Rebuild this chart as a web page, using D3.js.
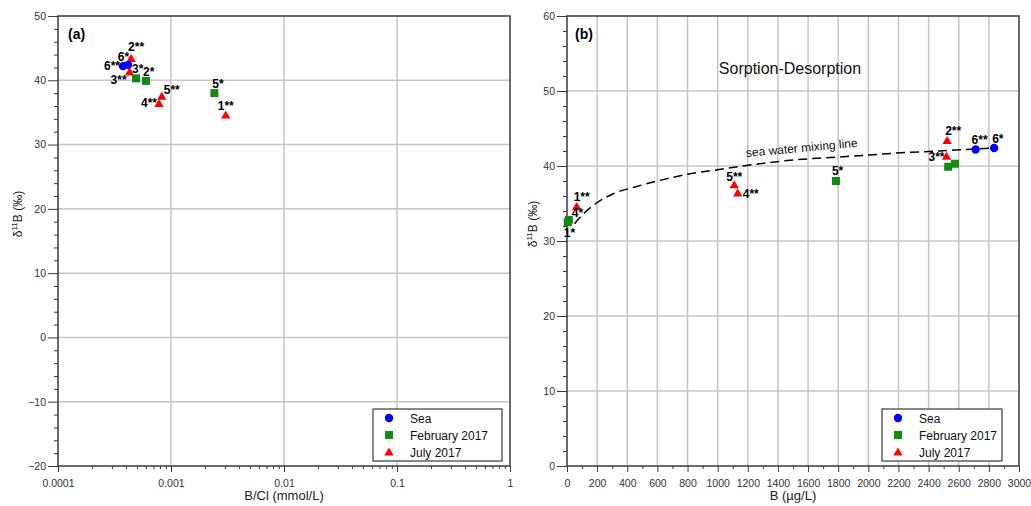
<!DOCTYPE html>
<html><head><meta charset="utf-8">
<script src="https://cdn.jsdelivr.net/npm/d3@7"></script>
<style>body{margin:0;background:#fff}svg{display:block;font-family:"Liberation Sans",Arial,sans-serif}</style>
</head><body><svg id="c" width="1031" height="506"></svg>
<script>
// ---------------- data ----------------
const seriesNames = ["Sea", "February 2017", "July 2017"];

const seaLabels = ["6**", "6*"];
const seaBCl    = [0.000376, 0.000417];
const seaB      = [2712, 2835];
const seaD11B   = [42.2, 42.4];

const febLabels = ["1*", "2*", "3*", "4*", "5*"];
const febBCl    = [null, 0.000601, 0.00049, null, 0.00242];
const febB      = [5, 2530, 2575, 12, 1785];
const febD11B   = [32.5, 39.9, 40.3, 32.8, 38.0];

const julLabels = ["1**", "2**", "3**", "4**", "5**"];
const julBCl    = [0.00305, 0.000443, 0.00043, 0.000783, 0.000828];
const julB      = [64, 2523, 2519, 1133, 1110];
const julD11B   = [34.6, 43.4, 41.3, 36.4, 37.5];

// sea water mixing line
const mixB    = [50, 113, 206, 307, 451, 600, 800, 1000, 1280, 1500, 1810, 2030, 2250, 2475, 2650, 2835];
const mixD11B = [32.3, 33.7, 35.2, 36.3, 37.2, 38.0, 38.9, 39.5, 40.3, 40.8, 41.2, 41.5, 41.8, 42.0, 42.2, 42.4];

const yTicksA = [-20, -10, 0, 10, 20, 30, 40, 50];
const xTicksA = [0.0001, 0.001, 0.01, 0.1, 1];
const xTickLabelsA = ["0.0001", "0.001", "0.01", "0.1", "1"];
const yTicksB = [0, 10, 20, 30, 40, 50, 60];
const xTicksB = [0, 200, 400, 600, 800, 1000, 1200, 1400, 1600, 1800, 2000, 2200, 2400, 2600, 2800, 3000];

// ---------------- layout (label offsets in px) ----------------
const labelPosA = {
  "2**": [-3, -7, "start"], "6*": [1, -4, "end"], "6**": [-3, 4, "end"], "3**": [-3, 12, "end"],
  "3*": [-4, -5, "start"], "2*": [-3, -5, "start"], "5**": [2, -2, "start"], "4**": [-2, 4, "end"],
  "5*": [-2, -5, "start"], "1**": [-8, -5, "start"]
};
const labelPosB = {
  "1**": [-3, -6, "start"], "4*": [3, -3, "start"], "1*": [-4, 15, "start"], "5**": [-8, -4, "start"],
  "4**": [5, 5, "start"], "5*": [-4, -6, "start"], "2**": [-2, -6, "start"], "3**": [-2, 5, "end"],
  "6**": [-4, -6, "start"], "6*": [-2, -5, "start"]
};

const svg = d3.select("#c");
const colors = {sea: "#0000ff", feb: "#138a13", jul: "#ff0000"};
const gridColor = "#c6c6c6", frameColor = "#3a3a3a", tickTextColor = "#333";

function marker(g, kind, x, y) {
  if (kind === "sea") g.append("circle").attr("cx", x).attr("cy", y).attr("r", 4.2).attr("fill", colors.sea);
  else if (kind === "feb") g.append("rect").attr("x", x - 4).attr("y", y - 4).attr("width", 8).attr("height", 8).attr("fill", colors.feb);
  else g.append("path").attr("d", d3.symbol(d3.symbolTriangle, 38)()).attr("transform", `translate(${x},${y + 0.8})`).attr("fill", colors.jul);
}

function panel(o) {
  const g = svg.append("g");
  const x = o.x, y = o.y;
  const [x0, x1] = x.range(), [y1, y0] = y.range();
  g.selectAll(".gx").data(o.gridX).join("line")
    .attr("x1", d => x(d)).attr("x2", d => x(d)).attr("y1", y0).attr("y2", y1)
    .attr("stroke", gridColor).attr("stroke-width", 1.5);
  g.selectAll(".gy").data(o.gridY).join("line")
    .attr("x1", x0).attr("x2", x1).attr("y1", d => y(d)).attr("y2", d => y(d))
    .attr("stroke", gridColor).attr("stroke-width", 1.5);
  g.append("g").attr("transform", `translate(${x0},0)`)
    .call(d3.axisLeft(y).tickValues(o.yMinor).tickSize(4).tickFormat(""))
    .call(a => a.select(".domain").remove())
    .selectAll("line").attr("stroke", frameColor);
  g.append("g").attr("transform", `translate(0,${y1})`)
    .call(d3.axisBottom(x).tickValues(o.xMinor).tickSize(3).tickFormat(""))
    .call(a => a.select(".domain").remove())
    .selectAll("line").attr("stroke", frameColor);
  const ay = g.append("g").attr("transform", `translate(${x0},0)`)
    .call(d3.axisLeft(y).tickValues(o.yTicks).tickSize(10).tickPadding(2).tickFormat(d3.format("d")));
  const ax = g.append("g").attr("transform", `translate(0,${y1})`)
    .call(d3.axisBottom(x).tickValues(o.xTicks).tickSize(6).tickPadding(8).tickFormat((d, i) => o.xTickLabels[i]));
  [ay, ax].forEach(a => {
    a.select(".domain").remove();
    a.selectAll("line").attr("stroke", frameColor);
    a.selectAll("text").attr("font-size", 10.5).attr("fill", tickTextColor).attr("font-family", "Liberation Sans, Arial, sans-serif");
  });
  g.append("rect").attr("x", x0).attr("y", y0).attr("width", x1 - x0).attr("height", y1 - y0)
    .attr("fill", "none").attr("stroke", frameColor).attr("stroke-width", 1.5);
  g.append("text").attr("x", (x0 + x1) / 2).attr("y", 500).attr("text-anchor", "middle")
    .attr("font-size", 13).attr("fill", "#222").text(o.xTitle);
  const yt = g.append("text").attr("transform", `translate(${o.yTitleX},${o.yTitleY}) rotate(-90)`)
    .attr("text-anchor", "middle").attr("font-size", 12).attr("fill", "#222");
  yt.append("tspan").text("δ");
  yt.append("tspan").attr("font-size", 8).attr("dy", -5).text("11");
  yt.append("tspan").attr("dy", 5).text("B (‰)");
  g.append("text").attr("x", o.tagX).attr("y", 39).attr("font-size", 14).attr("font-weight", "bold").text(o.tag);
  return g;
}

function legend(g, lx, ly, w) {
  const h = 52;
  g.append("rect").attr("x", lx).attr("y", ly).attr("width", w).attr("height", h)
    .attr("fill", "#fff").attr("stroke", frameColor).attr("stroke-width", 1.2);
  ["sea", "feb", "jul"].forEach((k, i) => {
    const cy = ly + 9 + i * 17;
    marker(g, k, lx + 16, cy);
    g.append("text").attr("x", lx + 37).attr("y", cy + 4.5).attr("font-size", 12).attr("fill", "#111").text(seriesNames[i]);
  });
}

function points(g, x, y, xs, ys, kind) {
  xs.forEach((xv, i) => {
    if (xv == null) return;
    marker(g, kind, x(xv), y(ys[i]));
  });
}
function labelsOnly(g, x, y, xs, ys, labels, pos) {
  xs.forEach((xv, i) => {
    if (xv == null) return;
    const p = pos[labels[i]];
    g.append("text").attr("x", x(xv) + p[0]).attr("y", y(ys[i]) + p[1]).attr("text-anchor", p[2])
      .attr("font-size", 12).attr("font-weight", "bold").attr("fill", "#000").text(labels[i]);
  });
}

// ---------------- panel (a) ----------------
const xA = d3.scaleLog().domain([0.0001, 1]).range([58, 510]);
const yA = d3.scaleLinear().domain([-20, 50]).range([466, 16]);
const minorLog = [];
for (let e = -4; e < 0; e++) for (let m = 2; m <= 9; m++) minorLog.push(m * Math.pow(10, e));
const gA = panel({
  x: xA, y: yA, gridX: [0.001, 0.01, 0.1], gridY: [-10, 0, 10, 20, 30, 40],
  yTicks: yTicksA, xTicks: xTicksA, xTickLabels: xTickLabelsA,
  yMinor: d3.range(-20, 51, 2).filter(v => v % 10 !== 0), xMinor: minorLog,
  xTitle: "B/Cl (mmol/L)", yTitleX: 22, yTitleY: 214, tag: "(a)", tagX: 68
});
points(gA, xA, yA, julBCl, julD11B, "jul");
points(gA, xA, yA, febBCl, febD11B, "feb");
points(gA, xA, yA, seaBCl, seaD11B, "sea");
labelsOnly(gA, xA, yA, julBCl, julD11B, julLabels, labelPosA);
labelsOnly(gA, xA, yA, febBCl, febD11B, febLabels, labelPosA);
labelsOnly(gA, xA, yA, seaBCl, seaD11B, seaLabels, labelPosA);
legend(gA, 373, 409, 129);

// ---------------- panel (b) ----------------
const xB = d3.scaleLinear().domain([0, 3000]).range([567, 1019]);
const yB = d3.scaleLinear().domain([0, 60]).range([466, 16]);
const gB = panel({
  x: xB, y: yB, gridX: d3.range(200, 3000, 200), gridY: [10, 20, 30, 40, 50],
  yTicks: yTicksB, xTicks: xTicksB, xTickLabels: xTicksB.map(String),
  yMinor: d3.range(0, 61, 2).filter(v => v % 10 !== 0), xMinor: d3.range(100, 3000, 200),
  xTitle: "B (µg/L)", yTitleX: 537, yTitleY: 224, tag: "(b)", tagX: 575
});
gB.append("path")
  .datum(mixB.map((b, i) => [b, mixD11B[i]]))
  .attr("d", d3.line().x(d => xB(d[0])).y(d => yB(d[1])).curve(d3.curveMonotoneX))
  .attr("fill", "none").attr("stroke", "#000").attr("stroke-width", 1.5).attr("stroke-dasharray", "9,5");
gB.append("text").attr("transform", `translate(${xB(1190)},${yB(41.2)}) rotate(-5.2)`)
  .attr("font-size", 12).attr("fill", "#111").text("sea water mixing line");
gB.append("text").attr("x", xB(1480)).attr("y", yB(52.3)).attr("text-anchor", "middle")
  .attr("font-size", 16).attr("fill", "#111").text("Sorption-Desorption");
points(gB, xB, yB, julB, julD11B, "jul");
points(gB, xB, yB, febB, febD11B, "feb");
points(gB, xB, yB, seaB, seaD11B, "sea");
labelsOnly(gB, xB, yB, julB, julD11B, julLabels, labelPosB);
labelsOnly(gB, xB, yB, febB.map((v, i) => i === 0 || i === 3 || i === 4 ? v : null), febD11B, febLabels, labelPosB);
labelsOnly(gB, xB, yB, seaB, seaD11B, seaLabels, labelPosB);
legend(gB, 882, 409, 120);
</script></body></html>
